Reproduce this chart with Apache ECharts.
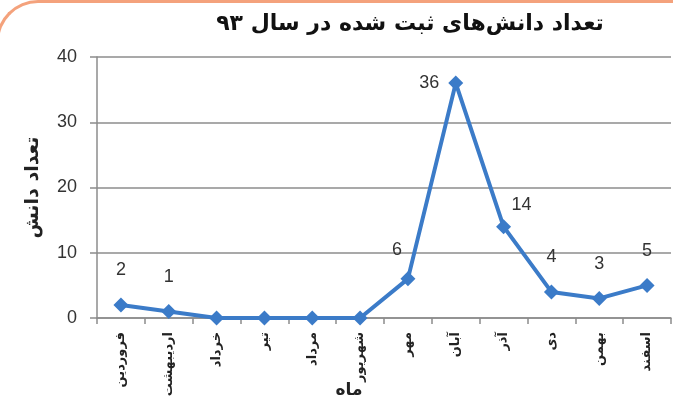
<!DOCTYPE html>
<html>
<head>
<meta charset="utf-8">
<script src="https://cdn.jsdelivr.net/npm/echarts@6/dist/echarts.min.js"></script>
<style>
html, body { margin: 0; padding: 0; background: #fff; overflow: hidden; }
#frame {
  position: absolute; left: -4px; top: 0; width: 700px; height: 440px;
  border-top: 3px solid #f4a27c; border-left: 3px solid #f4a27c;
  border-top-left-radius: 42px; box-sizing: border-box;
}
#chart { position: absolute; left: 0; top: 0; width: 673px; height: 405px; }
</style>
</head>
<body>
<div id="frame"></div>
<div id="chart"></div>
<script>
// months (Persian calendar) and number of registered items in year 93
const months = ['فروردین', 'اردیبهشت', 'خرداد', 'تیر', 'مرداد', 'شهریور', 'مهر', 'آبان', 'آذر', 'دی', 'بهمن', 'اسفند']
const counts = [2, 1, 0, 0, 0, 0, 6, 36, 14, 4, 3, 5]
const yTicks = [0, 10, 20, 30, 40]

// label placement tweaks per point (only non-zero values are labelled)
const labelTweaks = {
  6: { position: 'top', distance: 12, offset: [-11, 0] },
  7: { position: 'left', distance: 9, offset: [0, 0] },
  8: { position: 'top', distance: 5, offset: [18, 0] }
}

const seriesData = counts.map((v, i) => {
  const tw = labelTweaks[i] || { position: 'top', distance: 18, offset: [0, 0] }
  return {
    value: v,
    label: {
      show: v !== 0,
      position: tw.position,
      distance: tw.distance,
      offset: tw.offset
    }
  }
})

const grey = '#8c8c8c'
const persianFont = '"DejaVu Sans", sans-serif'

let option = {
  animation: false,
  title: {
    text: 'تعداد دانش‌های ثبت شده در سال ۹۳',
    left: 405,
    top: 8,
    textAlign: 'center',
    textStyle: {
      fontFamily: persianFont,
      fontWeight: 'bold',
      fontSize: 22,
      color: '#111'
    }
  },
  grid: {
    left: 97,
    right: 2,
    top: 57,
    bottom: 87,
    outerBoundsMode: 'none'
  },
  xAxis: {
    type: 'category',
    data: months,
    boundaryGap: true,
    name: 'ماه',
    nameLocation: 'middle',
    nameGap: 64,
    nameMoveOverlap: false,
    nameTextStyle: {
      fontFamily: persianFont,
      fontWeight: 'bold',
      fontSize: 17,
      color: '#222',
      padding: [0, 70, 0, 0]
    },
    axisLine: { lineStyle: { color: grey, width: 1.5 } },
    axisTick: { show: true, length: 6, alignWithLabel: false, lineStyle: { color: grey, width: 1.5 } },
    axisLabel: {
      rotate: 90,
      interval: 0,
      margin: 14,
      fontFamily: persianFont,
      fontWeight: 'bold',
      fontSize: 13,
      color: '#222'
    }
  },
  yAxis: {
    type: 'value',
    min: yTicks[0],
    max: yTicks[yTicks.length - 1],
    interval: 10,
    name: 'تعداد دانش',
    nameLocation: 'middle',
    nameGap: 54,
    nameMoveOverlap: false,
    nameTextStyle: {
      fontFamily: persianFont,
      fontWeight: 'bold',
      fontSize: 19,
      color: '#222'
    },
    axisLine: { show: true, lineStyle: { color: grey, width: 1.5 } },
    axisTick: { show: true, length: 7, lineStyle: { color: grey, width: 1.5 } },
    axisLabel: {
      margin: 20,
      fontFamily: 'Liberation Sans, Arial, sans-serif',
      fontSize: 18,
      color: '#333'
    },
    splitLine: { show: true, lineStyle: { color: grey, width: 1.5 } }
  },
  series: [
    {
      type: 'line',
      data: seriesData,
      symbol: 'diamond',
      symbolSize: 15,
      itemStyle: { color: '#3b7bc8' },
      lineStyle: { color: '#3b7bc8', width: 4 },
      label: {
        fontFamily: 'Liberation Sans, Arial, sans-serif',
        fontSize: 18,
        color: '#333'
      }
    }
  ]
}

let myChart = echarts.init(document.getElementById('chart'))
myChart.setOption(option)
</script>
</body>
</html>
